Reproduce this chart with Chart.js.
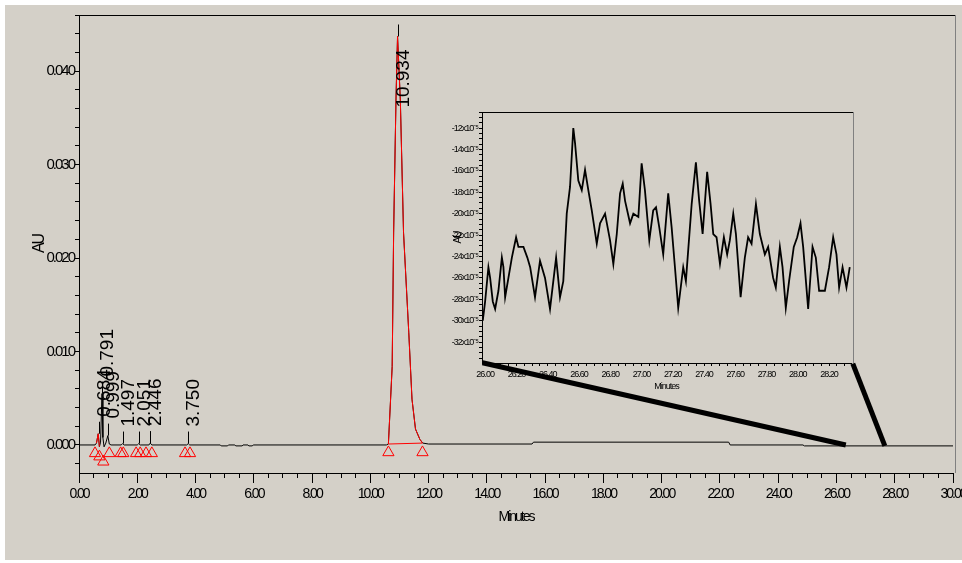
<!DOCTYPE html>
<html>
<head>
<meta charset="utf-8">
<script src="https://cdn.jsdelivr.net/npm/chart.js@4.4.1/dist/chart.umd.min.js"></script>
<style>
  html, body { margin: 0; padding: 0; background: #ffffff; }
  #page { position: relative; width: 962px; height: 563px; overflow: hidden; }
  #panel { position: absolute; left: 5px; top: 5px; width: 957px; height: 555px; background: #d4d0c8; }
  #mainChart { position: absolute; left: 0; top: 0; }
  #insetChart { position: absolute; left: 430px; top: 100px; }
</style>
</head>
<body>
<div id="page">
  <div id="panel"></div>
  <canvas id="mainChart" width="962" height="563"></canvas>
  <canvas id="insetChart" width="440" height="300"></canvas>
</div>
<script>
// Main trace (minutes, AU)
const mainTimes = [0, 0.55, 0.60, 0.66, 0.70, 0.74, 0.79, 0.82, 0.86, 0.92, 0.99, 1.04, 1.10,
  1.45, 1.497, 1.55, 2.00, 2.051, 2.10, 2.40, 2.446, 2.50, 3.70, 3.750, 3.80,
  4.85, 4.88, 5.10, 5.13, 5.35, 5.38, 5.60, 5.63, 5.80, 5.83, 5.95, 5.98,
  10.55, 10.62, 10.75, 10.80, 10.88, 10.934, 11.03, 11.14, 11.32, 11.43, 11.55, 11.70, 11.80,
  12.0, 15.55, 15.6, 22.3, 22.35, 24.85, 24.9, 30];
const mainAU = [0, 0, 0.0002, 0.0012, -0.0002, 0.0003, 0.0055, 0.0008, -0.0002, 0.0002, 0.0010, 0.0001, 0,
  0, 0.00015, 0, 0, 0.00015, 0, 0, 0.0002, 0, 0, 0.00015, 0,
  0, -0.0001, -0.0001, 0, 0, -0.0001, -0.0001, 0, 0, -0.0001, -0.0001, 0,
  0, 0.0001, 0.0084, 0.0227, 0.0369, 0.0437, 0.0369, 0.0227, 0.0120, 0.0049, 0.0017, 0.0006, 0.0002,
  0.0001, 0.0001, 0.0003, 0.0003, 0, 0, -0.0001, -0.0001];

// Red integration overlay of the main peak (closed back along its baseline)
const peakFillTimes = [10.62, 10.75, 10.80, 10.88, 10.934, 11.03, 11.14, 11.32, 11.43, 11.55, 11.70, 11.79, 10.62];
const peakFillAU = [0.0001, 0.0084, 0.0227, 0.0369, 0.0437, 0.0369, 0.0227, 0.0120, 0.0049, 0.0017, 0.0006, 0.0002, 0.0001];
const smallFillTimes = [0.60, 0.66, 0.70];
const smallFillAU = [0.0002, 0.0012, -0.0002];

// Peak start / end marks
const markTimes = [0.55, 0.70, 0.835, 1.04, 1.43, 1.52, 1.96, 2.10, 2.30, 2.50, 3.64, 3.81, 10.62, 11.79];
const markAU = [-0.0009, -0.00125, -0.0018, -0.0009, -0.0009, -0.0009, -0.0009, -0.0009, -0.0009, -0.0009,
  -0.0009, -0.0009, -0.0008, -0.0008];

// Retention time labels
const peakTimes = [0.684, 0.791, 0.999, 1.497, 2.051, 2.446, 3.750, 10.934];
const peakLabels = ["0.684", "0.791", "0.999", "1.497", "2.051", "2.446", "3.750", "10.934"];
const peakApex = [0.0012, 0.0055, 0.0010, 0.00015, 0.00015, 0.0002, 0.00015, 0.0437];

// Zoom connector lines (main axis units)
const connLeftTimes = [13.85, 26.32];
const connLeftAU = [0.0088, 0.0000];
const connRightTimes = [26.56, 27.66];
const connRightAU = [0.0087, -0.0001];

// Inset trace (minutes, AU x10^-5)
const insetTimes = [25.985, 26.000, 26.021, 26.032, 26.049, 26.064, 26.085, 26.107, 26.117, 26.128,
  26.149, 26.171, 26.198, 26.213, 26.245, 26.270, 26.288, 26.319, 26.351, 26.383,
  26.415, 26.454, 26.479, 26.500, 26.511, 26.522, 26.543, 26.564, 26.575, 26.596,
  26.618, 26.639, 26.660, 26.682, 26.714, 26.735, 26.767, 26.799, 26.820, 26.842,
  26.863, 26.880, 26.895, 26.927, 26.948, 26.980, 27.001, 27.022, 27.050, 27.075,
  27.093, 27.114, 27.139, 27.171, 27.193, 27.214, 27.235, 27.267, 27.284, 27.321,
  27.348, 27.369, 27.391, 27.420, 27.442, 27.459, 27.480, 27.502, 27.527, 27.548,
  27.565, 27.587, 27.604, 27.634, 27.661, 27.682, 27.704, 27.732, 27.757, 27.789,
  27.810, 27.842, 27.859, 27.885, 27.902, 27.923, 27.944, 27.974, 27.996, 28.017,
  28.034, 28.066, 28.094, 28.115, 28.136, 28.173, 28.200, 28.226, 28.247, 28.264,
  28.286, 28.311, 28.332];
const insetAU = [-30.0, -28.2, -25.0, -26.0, -28.2, -28.9, -27.2, -24.1, -25.0, -27.8,
  -26.0, -24.1, -22.2, -23.1, -23.1, -24.1, -25.0, -27.8, -24.4, -26.0,
  -28.9, -24.1, -27.8, -26.3, -23.1, -20.0, -17.5, -12.0, -13.4, -16.9,
  -17.8, -15.9, -17.8, -19.7, -22.8, -20.9, -20.0, -22.5, -24.7, -21.9,
  -18.1, -17.2, -18.8, -20.9, -20.0, -20.3, -15.3, -17.8, -22.5, -19.7,
  -19.4, -21.3, -23.8, -18.1, -21.3, -25.0, -28.8, -25.0, -26.3, -19.1,
  -15.2, -18.8, -21.9, -16.1, -19.1, -21.9, -22.2, -24.7, -22.2, -23.8,
  -22.5, -20.0, -21.9, -27.8, -24.1, -22.2, -22.8, -19.1, -21.9, -23.8,
  -23.1, -26.0, -26.9, -23.1, -25.0, -28.8, -26.3, -23.1, -22.2, -20.9,
  -23.1, -28.9, -23.1, -24.1, -27.2, -27.2, -25.0, -22.2, -23.8, -26.9,
  -25.0, -26.9, -25.0];

Chart.defaults.font.family = '"Liberation Sans", Arial, sans-serif';
Chart.defaults.color = "#000000";

function toPoints(xs, ys) {
  return xs.map((x, i) => ({ x: x, y: ys[i] }));
}

function isMultiple(v, step) {
  return Math.abs(v / step - Math.round(v / step)) < 1e-6;
}

// fixed axis box size, no extra room for overhanging labels
function fixSize(width, height) {
  return (s) => {
    if (width !== null) s.width = width;
    if (height !== null) s.height = height;
    s.paddingLeft = 0;
    s.paddingRight = 0;
    s.paddingTop = 0;
    s.paddingBottom = 0;
  };
}

// squashed axis text, like the original software
function squeezeText(spacing) {
  return {
    id: "squeezeText",
    beforeDraw(chart) { chart.ctx.letterSpacing = spacing; },
    beforeDatasetsDraw(chart) { chart.ctx.letterSpacing = "0px"; },
  };
}

// top line black, right line gray
const framePlugin = {
  id: "frame",
  beforeDatasetsDraw(chart) {
    const { ctx, chartArea: a } = chart;
    ctx.save();
    ctx.lineWidth = 1;
    ctx.strokeStyle = "#000000";
    ctx.beginPath();
    ctx.moveTo(a.left, a.top + 0.5);
    ctx.lineTo(a.right + 2, a.top + 0.5);
    ctx.stroke();
    ctx.strokeStyle = "#808080";
    ctx.beginPath();
    ctx.moveTo(a.right + 2.5, a.top);
    ctx.lineTo(a.right + 2.5, a.bottom);
    ctx.stroke();
    ctx.restore();
  },
};

// retention time ticks and rotated labels
const peakLabelPlugin = {
  id: "peakLabels",
  afterDatasetsDraw(chart) {
    const { ctx, chartArea } = chart;
    const xs = chart.scales.x, ys = chart.scales.y;
    ctx.save();
    ctx.letterSpacing = "0px";
    ctx.font = '19px "Liberation Sans", Arial, sans-serif';
    ctx.fillStyle = "#000000";
    ctx.strokeStyle = "#000000";
    ctx.lineWidth = 1;
    peakTimes.forEach((t, i) => {
      const px = Math.round(xs.getPixelForValue(t)) + 0.5;
      const py = ys.getPixelForValue(peakApex[i]);
      ctx.beginPath();
      ctx.moveTo(px, py);
      ctx.lineTo(px, py - 12);
      ctx.stroke();
      const len = ctx.measureText(peakLabels[i]).width;
      let bottom = py - 17;
      if (bottom - len < chartArea.top + 2) bottom = py + 13 + len;
      ctx.save();
      ctx.translate(px + 10.5, bottom);
      ctx.rotate(-Math.PI / 2);
      ctx.textAlign = "left";
      ctx.textBaseline = "alphabetic";
      ctx.fillText(peakLabels[i], 0, 0);
      ctx.restore();
    });
    ctx.restore();
  },
};

function renderMain() {
  const ctx = document.getElementById("mainChart").getContext("2d");
  new Chart(ctx, {
    type: "scatter",
    data: {
      datasets: [
        { data: toPoints(mainTimes, mainAU), showLine: true, borderColor: "#000000", borderWidth: 1,
          pointRadius: 0, order: 5 },
        { data: toPoints(peakFillTimes, peakFillAU), showLine: true, borderColor: "#ff0000", borderWidth: 1,
          pointRadius: 0, order: 3 },
        { data: toPoints(smallFillTimes, smallFillAU), showLine: true, borderColor: "#ff0000", borderWidth: 1,
          pointRadius: 0, order: 3 },
        { data: toPoints(markTimes, markAU), showLine: false, pointStyle: "triangle", pointRadius: 6.5,
          borderColor: "#ff0000", backgroundColor: "rgba(0,0,0,0)", borderWidth: 1, order: 2 },
        { data: toPoints(connLeftTimes, connLeftAU), showLine: true, borderColor: "#000000", borderWidth: 5,
          pointRadius: 0, order: 1 },
        { data: toPoints(connRightTimes, connRightAU), showLine: true, borderColor: "#000000", borderWidth: 5,
          pointRadius: 0, order: 1 },
      ],
    },
    options: {
      responsive: false,
      animation: false,
      layout: { padding: { left: 0, top: 15, right: 9, bottom: 0 } },
      plugins: { legend: { display: false }, tooltip: { enabled: false } },
      scales: {
        xMinor: {
          type: "linear", position: "bottom", weight: 0, min: 0, max: 30,
          afterFit: fixSize(null, 0),
          ticks: { display: false, stepSize: 0.5, includeBounds: false, autoSkip: false },
          grid: { drawOnChartArea: false, tickLength: 5, tickColor: "#000000" },
          border: { color: "#000000" },
        },
        x: {
          type: "linear", position: "bottom", weight: 1, min: 0, max: 30,
          afterFit: fixSize(null, 90),
          ticks: { stepSize: 2, autoSkip: false, maxRotation: 0, padding: 3,
            font: { size: 14 }, callback: (v) => v.toFixed(2) },
          grid: { drawOnChartArea: false, tickLength: 10, tickColor: "#000000" },
          border: { color: "#000000" },
          title: { display: true, text: "Minutes", font: { size: 14 }, padding: { top: 0, bottom: 37 } },
        },
        y: {
          type: "linear", position: "left", min: -0.003, max: 0.046,
          afterFit: fixSize(79, null),
          ticks: { stepSize: 0.002, includeBounds: false, autoSkip: false, padding: 1, font: { size: 15 },
            callback: (v) => (isMultiple(v, 0.01) ? v.toFixed(3) : "") },
          grid: { drawOnChartArea: false, tickLength: 4, tickColor: "#000000" },
          border: { color: "#000000" },
          title: { display: true, text: "AU", font: { size: 16 }, padding: { top: 30, bottom: 0 } },
        },
      },
    },
    plugins: [squeezeText("-2px"), framePlugin, peakLabelPlugin],
  });
}

function renderInset() {
  const ctx = document.getElementById("insetChart").getContext("2d");
  new Chart(ctx, {
    type: "scatter",
    data: {
      datasets: [
        { data: toPoints(insetTimes, insetAU), showLine: true, borderColor: "#000000", borderWidth: 1.8,
          pointRadius: 0 },
      ],
    },
    options: {
      responsive: false,
      animation: false,
      layout: { padding: { left: 0, top: 12, right: 19, bottom: 0 } },
      plugins: { legend: { display: false }, tooltip: { enabled: false } },
      scales: {
        x: {
          type: "linear", position: "bottom", min: 25.98, max: 28.34,
          afterFit: fixSize(null, 37),
          ticks: { stepSize: 0.05, includeBounds: false, autoSkip: false, maxRotation: 0, padding: 3,
            font: { size: 9 }, callback: (v) => (isMultiple(v, 0.2) ? v.toFixed(2) : "") },
          grid: { drawOnChartArea: false, tickLength: 3, tickColor: "#000000" },
          border: { color: "#000000" },
          title: { display: true, text: "Minutes", font: { size: 9 }, padding: { top: 0, bottom: 8 } },
        },
        y: {
          type: "linear", position: "left", min: -33.95, max: -10.5,
          afterFit: fixSize(52, null),
          ticks: { stepSize: 0.5, includeBounds: false, autoSkip: false, padding: 1, font: { size: 9 },
            callback: (v) => (isMultiple(v, 2) ? v + "x10⁻⁵" : "") },
          grid: { drawOnChartArea: false, tickLength: 3, tickColor: "#000000" },
          border: { color: "#000000" },
          title: { display: true, text: "AU", font: { size: 10 }, padding: { top: 22, bottom: 0 } },
        },
      },
    },
    plugins: [squeezeText("-1px"), framePlugin],
  });
}

renderMain();
renderInset();
</script>
</body>
</html>
